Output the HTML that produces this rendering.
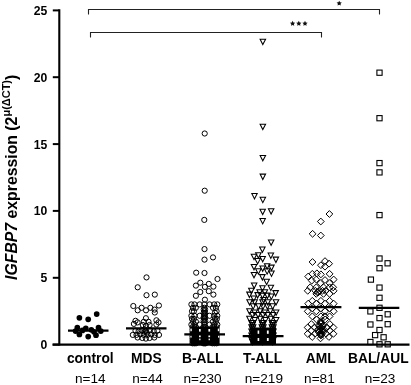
<!DOCTYPE html>
<html><head><meta charset="utf-8"><style>
html,body{margin:0;padding:0;background:#fff;width:411px;height:385px;overflow:hidden}
svg{display:block;will-change:transform}
text{font-family:"Liberation Sans",sans-serif;fill:#000}
.tk{font-weight:bold;font-size:12.2px}
.cl{font-weight:bold;font-size:13.8px}
.nl{font-size:13.6px}
.yl{font-weight:bold;font-size:15.8px}
</style></head><body>
<svg width="411" height="385" viewBox="0 0 411 385">
<line x1="59.3" y1="9.2" x2="59.3" y2="345.6" stroke="#000" stroke-width="2.1"/>
<line x1="52.5" y1="344.6" x2="409.5" y2="344.6" stroke="#000" stroke-width="2.1"/>
<line x1="52.8" y1="344.6" x2="59.3" y2="344.6" stroke="#000" stroke-width="2"/>
<text x="47.3" y="349.0" text-anchor="end" class="tk">0</text>
<line x1="52.8" y1="277.8" x2="59.3" y2="277.8" stroke="#000" stroke-width="2"/>
<text x="47.3" y="282.1" text-anchor="end" class="tk">5</text>
<line x1="52.8" y1="210.9" x2="59.3" y2="210.9" stroke="#000" stroke-width="2"/>
<text x="47.3" y="215.3" text-anchor="end" class="tk">10</text>
<line x1="52.8" y1="144.1" x2="59.3" y2="144.1" stroke="#000" stroke-width="2"/>
<text x="47.3" y="148.5" text-anchor="end" class="tk">15</text>
<line x1="52.8" y1="77.2" x2="59.3" y2="77.2" stroke="#000" stroke-width="2"/>
<text x="47.3" y="81.6" text-anchor="end" class="tk">20</text>
<line x1="52.8" y1="10.4" x2="59.3" y2="10.4" stroke="#000" stroke-width="2"/>
<text x="47.3" y="14.8" text-anchor="end" class="tk">25</text>
<path d="M88.5,14.6 V9.5 H379.5 V14.6" fill="none" stroke="#222" stroke-width="1.1"/>
<path d="M90.5,37.4 V32.5 H321.5 V37.6" fill="none" stroke="#222" stroke-width="1.1"/>
<polygon points="339.20,0.65 340.01,2.29 341.82,2.55 340.51,3.82 340.82,5.62 339.20,4.78 337.58,5.62 337.89,3.82 336.58,2.55 338.39,2.29" fill="#111"/>
<polygon points="292.60,20.85 293.41,22.49 295.22,22.75 293.91,24.02 294.22,25.82 292.60,24.98 290.98,25.82 291.29,24.02 289.98,22.75 291.79,22.49" fill="#111"/>
<polygon points="298.80,20.85 299.61,22.49 301.42,22.75 300.11,24.02 300.42,25.82 298.80,24.98 297.18,25.82 297.49,24.02 296.18,22.75 297.99,22.49" fill="#111"/>
<polygon points="305.00,20.85 305.81,22.49 307.62,22.75 306.31,24.02 306.62,25.82 305.00,24.98 303.38,25.82 303.69,24.02 302.38,22.75 304.19,22.49" fill="#111"/>
<text x="90.3" y="363.2" text-anchor="middle" class="cl">control</text>
<text x="90.25" y="383.4" text-anchor="middle" class="nl">n=14</text>
<text x="146.4" y="363.2" text-anchor="middle" class="cl">MDS</text>
<text x="147.5" y="383.4" text-anchor="middle" class="nl">n=44</text>
<text x="202.65" y="363.2" text-anchor="middle" class="cl">B-ALL</text>
<text x="202.5" y="383.4" text-anchor="middle" class="nl">n=230</text>
<text x="262.6" y="363.2" text-anchor="middle" class="cl">T-ALL</text>
<text x="263.9" y="383.4" text-anchor="middle" class="nl">n=219</text>
<text x="320.7" y="363.2" text-anchor="middle" class="cl">AML</text>
<text x="319.4" y="383.4" text-anchor="middle" class="nl">n=81</text>
<text x="378.3" y="363.2" text-anchor="middle" class="cl">BAL/AUL</text>
<text x="380.1" y="383.4" text-anchor="middle" class="nl">n=23</text>
<text transform="translate(16.9,177.3) rotate(-90)" text-anchor="middle" class="yl"><tspan font-style="italic">IGFBP7</tspan> expression (2<tspan dy="-7" font-size="11px">μ(ΔCT)</tspan><tspan dy="7">)</tspan></text>
<circle cx="79.4" cy="317.8" r="2.85" fill="#000"/>
<circle cx="88.2" cy="319.3" r="2.85" fill="#000"/>
<circle cx="96.7" cy="314.1" r="2.85" fill="#000"/>
<circle cx="77.3" cy="327.7" r="2.85" fill="#000"/>
<circle cx="79.4" cy="334.5" r="2.85" fill="#000"/>
<circle cx="85.8" cy="328.4" r="2.85" fill="#000"/>
<circle cx="88.2" cy="336.6" r="2.85" fill="#000"/>
<circle cx="91.3" cy="329.8" r="2.85" fill="#000"/>
<circle cx="96.0" cy="335.2" r="2.85" fill="#000"/>
<circle cx="98.5" cy="327.7" r="2.85" fill="#000"/>
<circle cx="100.8" cy="331.1" r="2.85" fill="#000"/>
<circle cx="75.6" cy="331.1" r="2.85" fill="#000"/>
<circle cx="82.4" cy="330.4" r="2.85" fill="#000"/>
<circle cx="94.0" cy="331.8" r="2.85" fill="#000"/>
<circle cx="146.5" cy="277.4" r="2.6" fill="none" stroke="#000" stroke-width="1.0"/>
<circle cx="137.7" cy="287.3" r="2.6" fill="none" stroke="#000" stroke-width="1.0"/>
<circle cx="146.5" cy="295.2" r="2.6" fill="none" stroke="#000" stroke-width="1.0"/>
<circle cx="154.8" cy="294.6" r="2.6" fill="none" stroke="#000" stroke-width="1.0"/>
<circle cx="133.3" cy="306.0" r="2.6" fill="none" stroke="#000" stroke-width="1.0"/>
<circle cx="137.7" cy="310.3" r="2.6" fill="none" stroke="#000" stroke-width="1.0"/>
<circle cx="141.6" cy="307.8" r="2.6" fill="none" stroke="#000" stroke-width="1.0"/>
<circle cx="146.0" cy="310.3" r="2.6" fill="none" stroke="#000" stroke-width="1.0"/>
<circle cx="150.4" cy="307.8" r="2.6" fill="none" stroke="#000" stroke-width="1.0"/>
<circle cx="154.5" cy="309.6" r="2.6" fill="none" stroke="#000" stroke-width="1.0"/>
<circle cx="158.9" cy="305.5" r="2.6" fill="none" stroke="#000" stroke-width="1.0"/>
<circle cx="154.8" cy="312.5" r="2.6" fill="none" stroke="#000" stroke-width="1.0"/>
<circle cx="145.9" cy="318.2" r="2.6" fill="none" stroke="#000" stroke-width="1.0"/>
<circle cx="135.5" cy="320.8" r="2.6" fill="none" stroke="#000" stroke-width="1.0"/>
<circle cx="137.6" cy="322.4" r="2.6" fill="none" stroke="#000" stroke-width="1.0"/>
<circle cx="133.9" cy="323.9" r="2.6" fill="none" stroke="#000" stroke-width="1.0"/>
<circle cx="143.8" cy="321.8" r="2.6" fill="none" stroke="#000" stroke-width="1.0"/>
<circle cx="148.5" cy="321.8" r="2.6" fill="none" stroke="#000" stroke-width="1.0"/>
<circle cx="156.4" cy="320.3" r="2.6" fill="none" stroke="#000" stroke-width="1.0"/>
<circle cx="158.5" cy="322.4" r="2.6" fill="none" stroke="#000" stroke-width="1.0"/>
<circle cx="156.4" cy="324.5" r="2.6" fill="none" stroke="#000" stroke-width="1.0"/>
<circle cx="142.8" cy="325.0" r="2.6" fill="none" stroke="#000" stroke-width="1.0"/>
<circle cx="149.6" cy="325.0" r="2.6" fill="none" stroke="#000" stroke-width="1.0"/>
<circle cx="145.9" cy="326.0" r="2.6" fill="none" stroke="#000" stroke-width="1.0"/>
<circle cx="135.5" cy="330.7" r="2.6" fill="none" stroke="#000" stroke-width="1.0"/>
<circle cx="138.6" cy="331.3" r="2.6" fill="none" stroke="#000" stroke-width="1.0"/>
<circle cx="141.7" cy="330.2" r="2.6" fill="none" stroke="#000" stroke-width="1.0"/>
<circle cx="145.9" cy="330.7" r="2.6" fill="none" stroke="#000" stroke-width="1.0"/>
<circle cx="150.1" cy="330.2" r="2.6" fill="none" stroke="#000" stroke-width="1.0"/>
<circle cx="153.8" cy="331.3" r="2.6" fill="none" stroke="#000" stroke-width="1.0"/>
<circle cx="157.4" cy="330.7" r="2.6" fill="none" stroke="#000" stroke-width="1.0"/>
<circle cx="132.8" cy="334.9" r="2.6" fill="none" stroke="#000" stroke-width="1.0"/>
<circle cx="136.5" cy="334.9" r="2.6" fill="none" stroke="#000" stroke-width="1.0"/>
<circle cx="140.2" cy="334.4" r="2.6" fill="none" stroke="#000" stroke-width="1.0"/>
<circle cx="143.8" cy="334.9" r="2.6" fill="none" stroke="#000" stroke-width="1.0"/>
<circle cx="147.5" cy="334.9" r="2.6" fill="none" stroke="#000" stroke-width="1.0"/>
<circle cx="151.2" cy="334.4" r="2.6" fill="none" stroke="#000" stroke-width="1.0"/>
<circle cx="154.8" cy="334.9" r="2.6" fill="none" stroke="#000" stroke-width="1.0"/>
<circle cx="159.0" cy="334.9" r="2.6" fill="none" stroke="#000" stroke-width="1.0"/>
<circle cx="137.6" cy="337.5" r="2.6" fill="none" stroke="#000" stroke-width="1.0"/>
<circle cx="142.3" cy="338.0" r="2.6" fill="none" stroke="#000" stroke-width="1.0"/>
<circle cx="145.9" cy="338.6" r="2.6" fill="none" stroke="#000" stroke-width="1.0"/>
<circle cx="149.6" cy="338.0" r="2.6" fill="none" stroke="#000" stroke-width="1.0"/>
<circle cx="154.3" cy="337.5" r="2.6" fill="none" stroke="#000" stroke-width="1.0"/>
<circle cx="145.2" cy="331.8" r="2.6" fill="none" stroke="#000" stroke-width="1.0"/>
<circle cx="146.7" cy="332.6" r="2.6" fill="none" stroke="#000" stroke-width="1.0"/>
<circle cx="144.6" cy="329.4" r="2.6" fill="none" stroke="#000" stroke-width="1.0"/>
<circle cx="204.7" cy="133.5" r="2.6" fill="none" stroke="#000" stroke-width="1.0"/>
<circle cx="204.7" cy="190.7" r="2.6" fill="none" stroke="#000" stroke-width="1.0"/>
<circle cx="204.3" cy="219.9" r="2.6" fill="none" stroke="#000" stroke-width="1.0"/>
<circle cx="204.5" cy="249.1" r="2.6" fill="none" stroke="#000" stroke-width="1.0"/>
<circle cx="204.5" cy="259.6" r="2.6" fill="none" stroke="#000" stroke-width="1.0"/>
<circle cx="213.0" cy="257.4" r="2.6" fill="none" stroke="#000" stroke-width="1.0"/>
<circle cx="196.2" cy="272.7" r="2.6" fill="none" stroke="#000" stroke-width="1.0"/>
<circle cx="204.5" cy="273.0" r="2.6" fill="none" stroke="#000" stroke-width="1.0"/>
<circle cx="217.5" cy="279.0" r="2.6" fill="none" stroke="#000" stroke-width="1.0"/>
<circle cx="200.3" cy="282.7" r="2.6" fill="none" stroke="#000" stroke-width="1.0"/>
<circle cx="195.9" cy="285.6" r="2.6" fill="none" stroke="#000" stroke-width="1.0"/>
<circle cx="204.9" cy="286.9" r="2.6" fill="none" stroke="#000" stroke-width="1.0"/>
<circle cx="208.8" cy="283.9" r="2.6" fill="none" stroke="#000" stroke-width="1.0"/>
<circle cx="213.4" cy="286.6" r="2.6" fill="none" stroke="#000" stroke-width="1.0"/>
<circle cx="200.3" cy="292.0" r="2.6" fill="none" stroke="#000" stroke-width="1.0"/>
<circle cx="195.9" cy="295.8" r="2.6" fill="none" stroke="#000" stroke-width="1.0"/>
<circle cx="208.8" cy="291.2" r="2.6" fill="none" stroke="#000" stroke-width="1.0"/>
<circle cx="213.4" cy="294.6" r="2.6" fill="none" stroke="#000" stroke-width="1.0"/>
<circle cx="204.9" cy="299.7" r="2.6" fill="none" stroke="#000" stroke-width="1.0"/>
<circle cx="191.4" cy="304.4" r="2.6" fill="none" stroke="#000" stroke-width="1.0"/>
<circle cx="194.5" cy="304.4" r="2.6" fill="none" stroke="#000" stroke-width="1.0"/>
<circle cx="199.7" cy="304.4" r="2.6" fill="none" stroke="#000" stroke-width="1.0"/>
<circle cx="204.4" cy="304.4" r="2.6" fill="none" stroke="#000" stroke-width="1.0"/>
<circle cx="209.6" cy="304.4" r="2.6" fill="none" stroke="#000" stroke-width="1.0"/>
<circle cx="214.2" cy="304.4" r="2.6" fill="none" stroke="#000" stroke-width="1.0"/>
<circle cx="217.3" cy="304.4" r="2.6" fill="none" stroke="#000" stroke-width="1.0"/>
<circle cx="192.9" cy="307.8" r="2.6" fill="none" stroke="#000" stroke-width="1.0"/>
<circle cx="195.8" cy="307.8" r="2.6" fill="none" stroke="#000" stroke-width="1.0"/>
<circle cx="204.4" cy="307.8" r="2.6" fill="none" stroke="#000" stroke-width="1.0"/>
<circle cx="213.0" cy="307.8" r="2.6" fill="none" stroke="#000" stroke-width="1.0"/>
<circle cx="215.9" cy="307.8" r="2.6" fill="none" stroke="#000" stroke-width="1.0"/>
<circle cx="203.7" cy="309.6" r="2.6" fill="none" stroke="#000" stroke-width="1.0"/>
<circle cx="205.1" cy="309.6" r="2.6" fill="none" stroke="#000" stroke-width="1.0"/>
<circle cx="192.0" cy="311.2" r="2.6" fill="none" stroke="#000" stroke-width="1.0"/>
<circle cx="193.9" cy="311.2" r="2.6" fill="none" stroke="#000" stroke-width="1.0"/>
<circle cx="204.4" cy="311.2" r="2.6" fill="none" stroke="#000" stroke-width="1.0"/>
<circle cx="216.6" cy="311.2" r="2.6" fill="none" stroke="#000" stroke-width="1.0"/>
<circle cx="203.7" cy="312.8" r="2.6" fill="none" stroke="#000" stroke-width="1.0"/>
<circle cx="205.1" cy="312.8" r="2.6" fill="none" stroke="#000" stroke-width="1.0"/>
<circle cx="214.9" cy="312.8" r="2.6" fill="none" stroke="#000" stroke-width="1.0"/>
<circle cx="204.4" cy="314.4" r="2.6" fill="none" stroke="#000" stroke-width="1.0"/>
<circle cx="191.4" cy="315.8" r="2.6" fill="none" stroke="#000" stroke-width="1.0"/>
<circle cx="194.5" cy="315.8" r="2.6" fill="none" stroke="#000" stroke-width="1.0"/>
<circle cx="199.7" cy="315.8" r="2.6" fill="none" stroke="#000" stroke-width="1.0"/>
<circle cx="204.4" cy="315.8" r="2.6" fill="none" stroke="#000" stroke-width="1.0"/>
<circle cx="209.6" cy="315.8" r="2.6" fill="none" stroke="#000" stroke-width="1.0"/>
<circle cx="214.2" cy="315.8" r="2.6" fill="none" stroke="#000" stroke-width="1.0"/>
<circle cx="217.3" cy="315.8" r="2.6" fill="none" stroke="#000" stroke-width="1.0"/>
<circle cx="203.7" cy="317.4" r="2.6" fill="none" stroke="#000" stroke-width="1.0"/>
<circle cx="205.1" cy="317.4" r="2.6" fill="none" stroke="#000" stroke-width="1.0"/>
<circle cx="192.0" cy="318.9" r="2.6" fill="none" stroke="#000" stroke-width="1.0"/>
<circle cx="193.9" cy="318.9" r="2.6" fill="none" stroke="#000" stroke-width="1.0"/>
<circle cx="204.4" cy="318.9" r="2.6" fill="none" stroke="#000" stroke-width="1.0"/>
<circle cx="214.9" cy="318.9" r="2.6" fill="none" stroke="#000" stroke-width="1.0"/>
<circle cx="216.8" cy="318.9" r="2.6" fill="none" stroke="#000" stroke-width="1.0"/>
<circle cx="203.7" cy="320.5" r="2.6" fill="none" stroke="#000" stroke-width="1.0"/>
<circle cx="205.1" cy="320.5" r="2.6" fill="none" stroke="#000" stroke-width="1.0"/>
<circle cx="193.0" cy="321.7" r="2.6" fill="none" stroke="#000" stroke-width="1.0"/>
<circle cx="195.9" cy="321.7" r="2.6" fill="none" stroke="#000" stroke-width="1.0"/>
<circle cx="212.9" cy="321.7" r="2.6" fill="none" stroke="#000" stroke-width="1.0"/>
<circle cx="215.8" cy="321.7" r="2.6" fill="none" stroke="#000" stroke-width="1.0"/>
<circle cx="204.4" cy="322.5" r="2.6" fill="none" stroke="#000" stroke-width="1.0"/>
<circle cx="191.4" cy="324.6" r="2.6" fill="none" stroke="#000" stroke-width="1.0"/>
<circle cx="194.5" cy="324.6" r="2.6" fill="none" stroke="#000" stroke-width="1.0"/>
<circle cx="199.7" cy="324.6" r="2.6" fill="none" stroke="#000" stroke-width="1.0"/>
<circle cx="204.4" cy="324.6" r="2.6" fill="none" stroke="#000" stroke-width="1.0"/>
<circle cx="209.6" cy="324.6" r="2.6" fill="none" stroke="#000" stroke-width="1.0"/>
<circle cx="214.2" cy="324.6" r="2.6" fill="none" stroke="#000" stroke-width="1.0"/>
<circle cx="217.3" cy="324.6" r="2.6" fill="none" stroke="#000" stroke-width="1.0"/>
<circle cx="192.5" cy="327.2" r="2.6" fill="none" stroke="#000" stroke-width="1.0"/>
<circle cx="194.3" cy="327.2" r="2.6" fill="none" stroke="#000" stroke-width="1.0"/>
<circle cx="196.0" cy="327.2" r="2.6" fill="none" stroke="#000" stroke-width="1.0"/>
<circle cx="203.3" cy="327.2" r="2.6" fill="none" stroke="#000" stroke-width="1.0"/>
<circle cx="204.6" cy="327.2" r="2.6" fill="none" stroke="#000" stroke-width="1.0"/>
<circle cx="205.6" cy="327.2" r="2.6" fill="none" stroke="#000" stroke-width="1.0"/>
<circle cx="212.4" cy="327.2" r="2.6" fill="none" stroke="#000" stroke-width="1.0"/>
<circle cx="214.5" cy="327.2" r="2.6" fill="none" stroke="#000" stroke-width="1.0"/>
<circle cx="216.6" cy="327.2" r="2.6" fill="none" stroke="#000" stroke-width="1.0"/>
<circle cx="192.5" cy="329.5" r="2.6" fill="none" stroke="#000" stroke-width="1.0"/>
<circle cx="194.3" cy="329.5" r="2.6" fill="none" stroke="#000" stroke-width="1.0"/>
<circle cx="196.0" cy="329.5" r="2.6" fill="none" stroke="#000" stroke-width="1.0"/>
<circle cx="203.3" cy="329.5" r="2.6" fill="none" stroke="#000" stroke-width="1.0"/>
<circle cx="204.6" cy="329.5" r="2.6" fill="none" stroke="#000" stroke-width="1.0"/>
<circle cx="205.6" cy="329.5" r="2.6" fill="none" stroke="#000" stroke-width="1.0"/>
<circle cx="212.4" cy="329.5" r="2.6" fill="none" stroke="#000" stroke-width="1.0"/>
<circle cx="214.5" cy="329.5" r="2.6" fill="none" stroke="#000" stroke-width="1.0"/>
<circle cx="216.6" cy="329.5" r="2.6" fill="none" stroke="#000" stroke-width="1.0"/>
<circle cx="192.5" cy="331.8" r="2.6" fill="none" stroke="#000" stroke-width="1.0"/>
<circle cx="194.3" cy="331.8" r="2.6" fill="none" stroke="#000" stroke-width="1.0"/>
<circle cx="196.0" cy="331.8" r="2.6" fill="none" stroke="#000" stroke-width="1.0"/>
<circle cx="203.3" cy="331.8" r="2.6" fill="none" stroke="#000" stroke-width="1.0"/>
<circle cx="204.6" cy="331.8" r="2.6" fill="none" stroke="#000" stroke-width="1.0"/>
<circle cx="205.6" cy="331.8" r="2.6" fill="none" stroke="#000" stroke-width="1.0"/>
<circle cx="212.4" cy="331.8" r="2.6" fill="none" stroke="#000" stroke-width="1.0"/>
<circle cx="214.5" cy="331.8" r="2.6" fill="none" stroke="#000" stroke-width="1.0"/>
<circle cx="216.6" cy="331.8" r="2.6" fill="none" stroke="#000" stroke-width="1.0"/>
<circle cx="192.5" cy="334.1" r="2.6" fill="none" stroke="#000" stroke-width="1.0"/>
<circle cx="194.3" cy="334.1" r="2.6" fill="none" stroke="#000" stroke-width="1.0"/>
<circle cx="196.0" cy="334.1" r="2.6" fill="none" stroke="#000" stroke-width="1.0"/>
<circle cx="203.3" cy="334.1" r="2.6" fill="none" stroke="#000" stroke-width="1.0"/>
<circle cx="204.6" cy="334.1" r="2.6" fill="none" stroke="#000" stroke-width="1.0"/>
<circle cx="205.6" cy="334.1" r="2.6" fill="none" stroke="#000" stroke-width="1.0"/>
<circle cx="212.4" cy="334.1" r="2.6" fill="none" stroke="#000" stroke-width="1.0"/>
<circle cx="214.5" cy="334.1" r="2.6" fill="none" stroke="#000" stroke-width="1.0"/>
<circle cx="216.6" cy="334.1" r="2.6" fill="none" stroke="#000" stroke-width="1.0"/>
<circle cx="192.5" cy="336.4" r="2.6" fill="none" stroke="#000" stroke-width="1.0"/>
<circle cx="194.3" cy="336.4" r="2.6" fill="none" stroke="#000" stroke-width="1.0"/>
<circle cx="196.0" cy="336.4" r="2.6" fill="none" stroke="#000" stroke-width="1.0"/>
<circle cx="203.3" cy="336.4" r="2.6" fill="none" stroke="#000" stroke-width="1.0"/>
<circle cx="204.6" cy="336.4" r="2.6" fill="none" stroke="#000" stroke-width="1.0"/>
<circle cx="205.6" cy="336.4" r="2.6" fill="none" stroke="#000" stroke-width="1.0"/>
<circle cx="212.4" cy="336.4" r="2.6" fill="none" stroke="#000" stroke-width="1.0"/>
<circle cx="214.5" cy="336.4" r="2.6" fill="none" stroke="#000" stroke-width="1.0"/>
<circle cx="216.6" cy="336.4" r="2.6" fill="none" stroke="#000" stroke-width="1.0"/>
<circle cx="192.5" cy="338.7" r="2.6" fill="none" stroke="#000" stroke-width="1.0"/>
<circle cx="194.3" cy="338.7" r="2.6" fill="none" stroke="#000" stroke-width="1.0"/>
<circle cx="196.0" cy="338.7" r="2.6" fill="none" stroke="#000" stroke-width="1.0"/>
<circle cx="203.3" cy="338.7" r="2.6" fill="none" stroke="#000" stroke-width="1.0"/>
<circle cx="204.6" cy="338.7" r="2.6" fill="none" stroke="#000" stroke-width="1.0"/>
<circle cx="205.6" cy="338.7" r="2.6" fill="none" stroke="#000" stroke-width="1.0"/>
<circle cx="212.4" cy="338.7" r="2.6" fill="none" stroke="#000" stroke-width="1.0"/>
<circle cx="214.5" cy="338.7" r="2.6" fill="none" stroke="#000" stroke-width="1.0"/>
<circle cx="216.6" cy="338.7" r="2.6" fill="none" stroke="#000" stroke-width="1.0"/>
<circle cx="192.5" cy="341.0" r="2.6" fill="none" stroke="#000" stroke-width="1.0"/>
<circle cx="194.3" cy="341.0" r="2.6" fill="none" stroke="#000" stroke-width="1.0"/>
<circle cx="196.0" cy="341.0" r="2.6" fill="none" stroke="#000" stroke-width="1.0"/>
<circle cx="203.3" cy="341.0" r="2.6" fill="none" stroke="#000" stroke-width="1.0"/>
<circle cx="204.6" cy="341.0" r="2.6" fill="none" stroke="#000" stroke-width="1.0"/>
<circle cx="205.6" cy="341.0" r="2.6" fill="none" stroke="#000" stroke-width="1.0"/>
<circle cx="212.4" cy="341.0" r="2.6" fill="none" stroke="#000" stroke-width="1.0"/>
<circle cx="214.5" cy="341.0" r="2.6" fill="none" stroke="#000" stroke-width="1.0"/>
<circle cx="216.6" cy="341.0" r="2.6" fill="none" stroke="#000" stroke-width="1.0"/>
<circle cx="192.5" cy="343.3" r="2.6" fill="none" stroke="#000" stroke-width="1.0"/>
<circle cx="194.3" cy="343.3" r="2.6" fill="none" stroke="#000" stroke-width="1.0"/>
<circle cx="196.0" cy="343.3" r="2.6" fill="none" stroke="#000" stroke-width="1.0"/>
<circle cx="203.3" cy="343.3" r="2.6" fill="none" stroke="#000" stroke-width="1.0"/>
<circle cx="204.6" cy="343.3" r="2.6" fill="none" stroke="#000" stroke-width="1.0"/>
<circle cx="205.6" cy="343.3" r="2.6" fill="none" stroke="#000" stroke-width="1.0"/>
<circle cx="212.4" cy="343.3" r="2.6" fill="none" stroke="#000" stroke-width="1.0"/>
<circle cx="214.5" cy="343.3" r="2.6" fill="none" stroke="#000" stroke-width="1.0"/>
<circle cx="216.6" cy="343.3" r="2.6" fill="none" stroke="#000" stroke-width="1.0"/>
<path d="M260.1,39.2 H265.6 L262.8,44.6 Z" fill="none" stroke="#000" stroke-width="1.05" stroke-linejoin="miter"/>
<path d="M260.1,124.2 H265.6 L262.8,129.6 Z" fill="none" stroke="#000" stroke-width="1.05" stroke-linejoin="miter"/>
<path d="M260.1,155.4 H265.6 L262.8,160.8 Z" fill="none" stroke="#000" stroke-width="1.05" stroke-linejoin="miter"/>
<path d="M260.1,174.1 H265.6 L262.8,179.5 Z" fill="none" stroke="#000" stroke-width="1.05" stroke-linejoin="miter"/>
<path d="M251.8,193.5 H257.2 L254.5,198.9 Z" fill="none" stroke="#000" stroke-width="1.05" stroke-linejoin="miter"/>
<path d="M260.1,197.3 H265.6 L262.8,202.7 Z" fill="none" stroke="#000" stroke-width="1.05" stroke-linejoin="miter"/>
<path d="M259.9,209.2 H265.4 L262.7,214.6 Z" fill="none" stroke="#000" stroke-width="1.05" stroke-linejoin="miter"/>
<path d="M268.4,208.7 H273.9 L271.1,214.1 Z" fill="none" stroke="#000" stroke-width="1.05" stroke-linejoin="miter"/>
<path d="M259.9,218.5 H265.4 L262.7,223.9 Z" fill="none" stroke="#000" stroke-width="1.05" stroke-linejoin="miter"/>
<path d="M268.4,239.9 H273.9 L271.1,245.3 Z" fill="none" stroke="#000" stroke-width="1.05" stroke-linejoin="miter"/>
<path d="M259.6,246.9 H265.1 L262.4,252.3 Z" fill="none" stroke="#000" stroke-width="1.05" stroke-linejoin="miter"/>
<path d="M251.2,254.2 H256.8 L254.0,259.6 Z" fill="none" stroke="#000" stroke-width="1.05" stroke-linejoin="miter"/>
<path d="M255.6,252.7 H261.1 L258.4,258.1 Z" fill="none" stroke="#000" stroke-width="1.05" stroke-linejoin="miter"/>
<path d="M268.1,253.0 H273.6 L270.8,258.4 Z" fill="none" stroke="#000" stroke-width="1.05" stroke-linejoin="miter"/>
<path d="M254.9,258.5 H260.4 L257.6,263.9 Z" fill="none" stroke="#000" stroke-width="1.05" stroke-linejoin="miter"/>
<path d="M259.9,256.4 H265.4 L262.7,261.8 Z" fill="none" stroke="#000" stroke-width="1.05" stroke-linejoin="miter"/>
<path d="M273.1,257.1 H278.6 L275.9,262.5 Z" fill="none" stroke="#000" stroke-width="1.05" stroke-linejoin="miter"/>
<path d="M251.2,264.4 H256.8 L254.0,269.8 Z" fill="none" stroke="#000" stroke-width="1.05" stroke-linejoin="miter"/>
<path d="M255.6,268.8 H261.1 L258.4,274.2 Z" fill="none" stroke="#000" stroke-width="1.05" stroke-linejoin="miter"/>
<path d="M259.9,265.9 H265.4 L262.7,271.3 Z" fill="none" stroke="#000" stroke-width="1.05" stroke-linejoin="miter"/>
<path d="M264.4,263.7 H269.9 L267.1,269.1 Z" fill="none" stroke="#000" stroke-width="1.05" stroke-linejoin="miter"/>
<path d="M268.8,265.1 H274.2 L271.5,270.5 Z" fill="none" stroke="#000" stroke-width="1.05" stroke-linejoin="miter"/>
<path d="M264.4,268.8 H269.9 L267.1,274.2 Z" fill="none" stroke="#000" stroke-width="1.05" stroke-linejoin="miter"/>
<path d="M268.8,271.0 H274.2 L271.5,276.4 Z" fill="none" stroke="#000" stroke-width="1.05" stroke-linejoin="miter"/>
<path d="M251.2,272.4 H256.8 L254.0,277.8 Z" fill="none" stroke="#000" stroke-width="1.05" stroke-linejoin="miter"/>
<path d="M259.6,274.6 H265.1 L262.4,280.0 Z" fill="none" stroke="#000" stroke-width="1.05" stroke-linejoin="miter"/>
<path d="M263.9,279.3 H269.4 L266.6,284.7 Z" fill="none" stroke="#000" stroke-width="1.05" stroke-linejoin="miter"/>
<path d="M251.4,282.9 H256.9 L254.2,288.3 Z" fill="none" stroke="#000" stroke-width="1.05" stroke-linejoin="miter"/>
<path d="M259.8,285.8 H265.2 L262.5,291.2 Z" fill="none" stroke="#000" stroke-width="1.05" stroke-linejoin="miter"/>
<path d="M268.1,285.3 H273.6 L270.8,290.7 Z" fill="none" stroke="#000" stroke-width="1.05" stroke-linejoin="miter"/>
<path d="M248.6,288.2 H254.1 L251.3,293.6 Z" fill="none" stroke="#000" stroke-width="1.05" stroke-linejoin="miter"/>
<path d="M256.9,289.7 H262.4 L259.6,295.1 Z" fill="none" stroke="#000" stroke-width="1.05" stroke-linejoin="miter"/>
<path d="M262.1,289.7 H267.6 L264.9,295.1 Z" fill="none" stroke="#000" stroke-width="1.05" stroke-linejoin="miter"/>
<path d="M246.7,292.1 H252.2 L249.4,297.5 Z" fill="none" stroke="#000" stroke-width="1.05" stroke-linejoin="miter"/>
<path d="M254.9,292.6 H260.4 L257.6,298.0 Z" fill="none" stroke="#000" stroke-width="1.05" stroke-linejoin="miter"/>
<path d="M259.8,293.1 H265.2 L262.5,298.5 Z" fill="none" stroke="#000" stroke-width="1.05" stroke-linejoin="miter"/>
<path d="M264.6,293.1 H270.1 L267.4,298.5 Z" fill="none" stroke="#000" stroke-width="1.05" stroke-linejoin="miter"/>
<path d="M268.6,294.0 H274.1 L271.3,299.4 Z" fill="none" stroke="#000" stroke-width="1.05" stroke-linejoin="miter"/>
<path d="M272.9,290.6 H278.4 L275.6,296.0 Z" fill="none" stroke="#000" stroke-width="1.05" stroke-linejoin="miter"/>
<path d="M250.9,296.0 H256.4 L253.7,301.4 Z" fill="none" stroke="#000" stroke-width="1.05" stroke-linejoin="miter"/>
<path d="M260.8,297.5 H266.2 L263.5,302.9 Z" fill="none" stroke="#000" stroke-width="1.05" stroke-linejoin="miter"/>
<path d="M246.8,299.7 H252.3 L249.6,305.1 Z" fill="none" stroke="#000" stroke-width="1.05" stroke-linejoin="miter"/>
<path d="M251.9,299.7 H257.4 L254.7,305.1 Z" fill="none" stroke="#000" stroke-width="1.05" stroke-linejoin="miter"/>
<path d="M259.8,299.7 H265.2 L262.5,305.1 Z" fill="none" stroke="#000" stroke-width="1.05" stroke-linejoin="miter"/>
<path d="M265.1,299.7 H270.6 L267.8,305.1 Z" fill="none" stroke="#000" stroke-width="1.05" stroke-linejoin="miter"/>
<path d="M273.2,299.7 H278.8 L276.0,305.1 Z" fill="none" stroke="#000" stroke-width="1.05" stroke-linejoin="miter"/>
<path d="M250.4,303.8 H255.9 L253.2,309.2 Z" fill="none" stroke="#000" stroke-width="1.05" stroke-linejoin="miter"/>
<path d="M255.9,303.8 H261.4 L258.6,309.2 Z" fill="none" stroke="#000" stroke-width="1.05" stroke-linejoin="miter"/>
<path d="M260.2,303.8 H265.8 L263.0,309.2 Z" fill="none" stroke="#000" stroke-width="1.05" stroke-linejoin="miter"/>
<path d="M264.6,303.8 H270.1 L267.4,309.2 Z" fill="none" stroke="#000" stroke-width="1.05" stroke-linejoin="miter"/>
<path d="M269.9,303.8 H275.4 L272.7,309.2 Z" fill="none" stroke="#000" stroke-width="1.05" stroke-linejoin="miter"/>
<path d="M246.7,308.7 H252.2 L249.4,314.1 Z" fill="none" stroke="#000" stroke-width="1.05" stroke-linejoin="miter"/>
<path d="M257.4,308.7 H262.9 L260.1,314.1 Z" fill="none" stroke="#000" stroke-width="1.05" stroke-linejoin="miter"/>
<path d="M267.6,308.7 H273.1 L270.3,314.1 Z" fill="none" stroke="#000" stroke-width="1.05" stroke-linejoin="miter"/>
<path d="M251.9,309.9 H257.4 L254.7,315.3 Z" fill="none" stroke="#000" stroke-width="1.05" stroke-linejoin="miter"/>
<path d="M262.1,309.9 H267.6 L264.9,315.3 Z" fill="none" stroke="#000" stroke-width="1.05" stroke-linejoin="miter"/>
<path d="M273.4,309.9 H278.9 L276.1,315.3 Z" fill="none" stroke="#000" stroke-width="1.05" stroke-linejoin="miter"/>
<path d="M249.8,312.5 H255.2 L252.5,317.9 Z" fill="none" stroke="#000" stroke-width="1.05" stroke-linejoin="miter"/>
<path d="M255.4,312.5 H260.9 L258.1,317.9 Z" fill="none" stroke="#000" stroke-width="1.05" stroke-linejoin="miter"/>
<path d="M260.2,312.5 H265.8 L263.0,317.9 Z" fill="none" stroke="#000" stroke-width="1.05" stroke-linejoin="miter"/>
<path d="M265.1,312.5 H270.6 L267.8,317.9 Z" fill="none" stroke="#000" stroke-width="1.05" stroke-linejoin="miter"/>
<path d="M270.4,312.5 H275.9 L273.2,317.9 Z" fill="none" stroke="#000" stroke-width="1.05" stroke-linejoin="miter"/>
<path d="M246.7,316.3 H252.2 L249.4,321.7 Z" fill="none" stroke="#000" stroke-width="1.05" stroke-linejoin="miter"/>
<path d="M257.4,316.3 H262.9 L260.1,321.7 Z" fill="none" stroke="#000" stroke-width="1.05" stroke-linejoin="miter"/>
<path d="M268.1,316.3 H273.6 L270.8,321.7 Z" fill="none" stroke="#000" stroke-width="1.05" stroke-linejoin="miter"/>
<path d="M251.9,317.5 H257.4 L254.7,322.9 Z" fill="none" stroke="#000" stroke-width="1.05" stroke-linejoin="miter"/>
<path d="M262.6,317.5 H268.1 L265.4,322.9 Z" fill="none" stroke="#000" stroke-width="1.05" stroke-linejoin="miter"/>
<path d="M273.4,317.5 H278.9 L276.1,322.9 Z" fill="none" stroke="#000" stroke-width="1.05" stroke-linejoin="miter"/>
<path d="M248.8,320.5 H254.3 L251.6,325.9 Z" fill="none" stroke="#000" stroke-width="1.05" stroke-linejoin="miter"/>
<path d="M250.4,320.5 H255.9 L253.2,325.9 Z" fill="none" stroke="#000" stroke-width="1.05" stroke-linejoin="miter"/>
<path d="M259.1,320.5 H264.6 L261.9,325.9 Z" fill="none" stroke="#000" stroke-width="1.05" stroke-linejoin="miter"/>
<path d="M260.8,320.5 H266.2 L263.5,325.9 Z" fill="none" stroke="#000" stroke-width="1.05" stroke-linejoin="miter"/>
<path d="M269.1,320.5 H274.6 L271.9,325.9 Z" fill="none" stroke="#000" stroke-width="1.05" stroke-linejoin="miter"/>
<path d="M270.8,320.5 H276.2 L273.5,325.9 Z" fill="none" stroke="#000" stroke-width="1.05" stroke-linejoin="miter"/>
<path d="M249.7,322.6 H255.2 L252.4,328.0 Z" fill="none" stroke="#000" stroke-width="1.05" stroke-linejoin="miter"/>
<path d="M259.9,322.6 H265.4 L262.7,328.0 Z" fill="none" stroke="#000" stroke-width="1.05" stroke-linejoin="miter"/>
<path d="M269.9,322.6 H275.4 L272.7,328.0 Z" fill="none" stroke="#000" stroke-width="1.05" stroke-linejoin="miter"/>
<path d="M248.8,324.7 H254.3 L251.6,330.1 Z" fill="none" stroke="#000" stroke-width="1.05" stroke-linejoin="miter"/>
<path d="M250.4,324.7 H255.9 L253.2,330.1 Z" fill="none" stroke="#000" stroke-width="1.05" stroke-linejoin="miter"/>
<path d="M259.1,324.7 H264.6 L261.9,330.1 Z" fill="none" stroke="#000" stroke-width="1.05" stroke-linejoin="miter"/>
<path d="M260.8,324.7 H266.2 L263.5,330.1 Z" fill="none" stroke="#000" stroke-width="1.05" stroke-linejoin="miter"/>
<path d="M269.1,324.7 H274.6 L271.9,330.1 Z" fill="none" stroke="#000" stroke-width="1.05" stroke-linejoin="miter"/>
<path d="M270.8,324.7 H276.2 L273.5,330.1 Z" fill="none" stroke="#000" stroke-width="1.05" stroke-linejoin="miter"/>
<path d="M249.7,326.8 H255.2 L252.4,332.2 Z" fill="none" stroke="#000" stroke-width="1.05" stroke-linejoin="miter"/>
<path d="M259.9,326.8 H265.4 L262.7,332.2 Z" fill="none" stroke="#000" stroke-width="1.05" stroke-linejoin="miter"/>
<path d="M269.9,326.8 H275.4 L272.7,332.2 Z" fill="none" stroke="#000" stroke-width="1.05" stroke-linejoin="miter"/>
<path d="M248.8,328.9 H254.3 L251.6,334.3 Z" fill="none" stroke="#000" stroke-width="1.05" stroke-linejoin="miter"/>
<path d="M250.4,328.9 H255.9 L253.2,334.3 Z" fill="none" stroke="#000" stroke-width="1.05" stroke-linejoin="miter"/>
<path d="M259.1,328.9 H264.6 L261.9,334.3 Z" fill="none" stroke="#000" stroke-width="1.05" stroke-linejoin="miter"/>
<path d="M260.8,328.9 H266.2 L263.5,334.3 Z" fill="none" stroke="#000" stroke-width="1.05" stroke-linejoin="miter"/>
<path d="M269.1,328.9 H274.6 L271.9,334.3 Z" fill="none" stroke="#000" stroke-width="1.05" stroke-linejoin="miter"/>
<path d="M270.8,328.9 H276.2 L273.5,334.3 Z" fill="none" stroke="#000" stroke-width="1.05" stroke-linejoin="miter"/>
<path d="M249.7,331.0 H255.2 L252.4,336.4 Z" fill="none" stroke="#000" stroke-width="1.05" stroke-linejoin="miter"/>
<path d="M259.9,331.0 H265.4 L262.7,336.4 Z" fill="none" stroke="#000" stroke-width="1.05" stroke-linejoin="miter"/>
<path d="M269.9,331.0 H275.4 L272.7,336.4 Z" fill="none" stroke="#000" stroke-width="1.05" stroke-linejoin="miter"/>
<path d="M248.8,333.1 H254.3 L251.6,338.5 Z" fill="none" stroke="#000" stroke-width="1.05" stroke-linejoin="miter"/>
<path d="M250.4,333.1 H255.9 L253.2,338.5 Z" fill="none" stroke="#000" stroke-width="1.05" stroke-linejoin="miter"/>
<path d="M259.1,333.1 H264.6 L261.9,338.5 Z" fill="none" stroke="#000" stroke-width="1.05" stroke-linejoin="miter"/>
<path d="M260.8,333.1 H266.2 L263.5,338.5 Z" fill="none" stroke="#000" stroke-width="1.05" stroke-linejoin="miter"/>
<path d="M269.1,333.1 H274.6 L271.9,338.5 Z" fill="none" stroke="#000" stroke-width="1.05" stroke-linejoin="miter"/>
<path d="M270.8,333.1 H276.2 L273.5,338.5 Z" fill="none" stroke="#000" stroke-width="1.05" stroke-linejoin="miter"/>
<path d="M249.7,335.2 H255.2 L252.4,340.6 Z" fill="none" stroke="#000" stroke-width="1.05" stroke-linejoin="miter"/>
<path d="M259.9,335.2 H265.4 L262.7,340.6 Z" fill="none" stroke="#000" stroke-width="1.05" stroke-linejoin="miter"/>
<path d="M269.9,335.2 H275.4 L272.7,340.6 Z" fill="none" stroke="#000" stroke-width="1.05" stroke-linejoin="miter"/>
<path d="M248.8,337.3 H254.3 L251.6,342.7 Z" fill="none" stroke="#000" stroke-width="1.05" stroke-linejoin="miter"/>
<path d="M250.4,337.3 H255.9 L253.2,342.7 Z" fill="none" stroke="#000" stroke-width="1.05" stroke-linejoin="miter"/>
<path d="M259.1,337.3 H264.6 L261.9,342.7 Z" fill="none" stroke="#000" stroke-width="1.05" stroke-linejoin="miter"/>
<path d="M260.8,337.3 H266.2 L263.5,342.7 Z" fill="none" stroke="#000" stroke-width="1.05" stroke-linejoin="miter"/>
<path d="M269.1,337.3 H274.6 L271.9,342.7 Z" fill="none" stroke="#000" stroke-width="1.05" stroke-linejoin="miter"/>
<path d="M270.8,337.3 H276.2 L273.5,342.7 Z" fill="none" stroke="#000" stroke-width="1.05" stroke-linejoin="miter"/>
<path d="M249.7,339.4 H255.2 L252.4,344.8 Z" fill="none" stroke="#000" stroke-width="1.05" stroke-linejoin="miter"/>
<path d="M259.9,339.4 H265.4 L262.7,344.8 Z" fill="none" stroke="#000" stroke-width="1.05" stroke-linejoin="miter"/>
<path d="M269.9,339.4 H275.4 L272.7,344.8 Z" fill="none" stroke="#000" stroke-width="1.05" stroke-linejoin="miter"/>
<path d="M329.4,210.6 L332.8,214.0 L329.4,217.4 L326.0,214.0 Z" fill="none" stroke="#000" stroke-width="1.0"/>
<path d="M320.8,218.1 L324.2,221.5 L320.8,224.9 L317.4,221.5 Z" fill="none" stroke="#000" stroke-width="1.0"/>
<path d="M312.6,230.4 L316.0,233.8 L312.6,237.2 L309.2,233.8 Z" fill="none" stroke="#000" stroke-width="1.0"/>
<path d="M320.8,232.1 L324.2,235.5 L320.8,238.9 L317.4,235.5 Z" fill="none" stroke="#000" stroke-width="1.0"/>
<path d="M312.5,258.6 L315.9,262.0 L312.5,265.4 L309.1,262.0 Z" fill="none" stroke="#000" stroke-width="1.0"/>
<path d="M325.0,257.7 L328.4,261.1 L325.0,264.6 L321.6,261.1 Z" fill="none" stroke="#000" stroke-width="1.0"/>
<path d="M329.1,260.2 L332.5,263.7 L329.1,267.1 L325.7,263.7 Z" fill="none" stroke="#000" stroke-width="1.0"/>
<path d="M320.9,261.8 L324.3,265.2 L320.9,268.6 L317.5,265.2 Z" fill="none" stroke="#000" stroke-width="1.0"/>
<path d="M325.0,263.2 L328.4,266.7 L325.0,270.1 L321.6,266.7 Z" fill="none" stroke="#000" stroke-width="1.0"/>
<path d="M308.2,273.1 L311.6,276.5 L308.2,279.9 L304.8,276.5 Z" fill="none" stroke="#000" stroke-width="1.0"/>
<path d="M312.3,270.4 L315.7,273.9 L312.3,277.3 L308.9,273.9 Z" fill="none" stroke="#000" stroke-width="1.0"/>
<path d="M316.9,269.9 L320.3,273.4 L316.9,276.8 L313.5,273.4 Z" fill="none" stroke="#000" stroke-width="1.0"/>
<path d="M320.9,270.9 L324.3,274.4 L320.9,277.8 L317.5,274.4 Z" fill="none" stroke="#000" stroke-width="1.0"/>
<path d="M329.6,270.4 L333.0,273.9 L329.6,277.3 L326.2,273.9 Z" fill="none" stroke="#000" stroke-width="1.0"/>
<path d="M316.3,276.1 L319.7,279.5 L316.3,282.9 L312.9,279.5 Z" fill="none" stroke="#000" stroke-width="1.0"/>
<path d="M325.0,276.6 L328.4,280.0 L325.0,283.4 L321.6,280.0 Z" fill="none" stroke="#000" stroke-width="1.0"/>
<path d="M333.7,276.1 L337.1,279.5 L333.7,282.9 L330.3,279.5 Z" fill="none" stroke="#000" stroke-width="1.0"/>
<path d="M311.7,277.2 L315.1,280.6 L311.7,284.1 L308.3,280.6 Z" fill="none" stroke="#000" stroke-width="1.0"/>
<path d="M320.4,279.8 L323.8,283.2 L320.4,286.6 L317.0,283.2 Z" fill="none" stroke="#000" stroke-width="1.0"/>
<path d="M329.6,279.8 L333.0,283.2 L329.6,286.6 L326.2,283.2 Z" fill="none" stroke="#000" stroke-width="1.0"/>
<path d="M310.2,283.9 L313.6,287.3 L310.2,290.8 L306.8,287.3 Z" fill="none" stroke="#000" stroke-width="1.0"/>
<path d="M316.3,283.9 L319.7,287.3 L316.3,290.8 L312.9,287.3 Z" fill="none" stroke="#000" stroke-width="1.0"/>
<path d="M323.5,283.9 L326.9,287.3 L323.5,290.8 L320.1,287.3 Z" fill="none" stroke="#000" stroke-width="1.0"/>
<path d="M329.6,283.9 L333.0,287.3 L329.6,290.8 L326.2,287.3 Z" fill="none" stroke="#000" stroke-width="1.0"/>
<path d="M333.2,283.9 L336.6,287.3 L333.2,290.8 L329.8,287.3 Z" fill="none" stroke="#000" stroke-width="1.0"/>
<path d="M307.7,287.4 L311.1,290.8 L307.7,294.2 L304.3,290.8 Z" fill="none" stroke="#000" stroke-width="1.0"/>
<path d="M315.3,287.4 L318.7,290.8 L315.3,294.2 L311.9,290.8 Z" fill="none" stroke="#000" stroke-width="1.0"/>
<path d="M318.9,287.4 L322.3,290.8 L318.9,294.2 L315.5,290.8 Z" fill="none" stroke="#000" stroke-width="1.0"/>
<path d="M322.5,287.4 L325.9,290.8 L322.5,294.2 L319.1,290.8 Z" fill="none" stroke="#000" stroke-width="1.0"/>
<path d="M325.5,287.4 L328.9,290.8 L325.5,294.2 L322.1,290.8 Z" fill="none" stroke="#000" stroke-width="1.0"/>
<path d="M333.7,287.4 L337.1,290.8 L333.7,294.2 L330.3,290.8 Z" fill="none" stroke="#000" stroke-width="1.0"/>
<path d="M316.3,290.4 L319.7,293.9 L316.3,297.3 L312.9,293.9 Z" fill="none" stroke="#000" stroke-width="1.0"/>
<path d="M323.5,290.4 L326.9,293.9 L323.5,297.3 L320.1,293.9 Z" fill="none" stroke="#000" stroke-width="1.0"/>
<path d="M329.6,290.4 L333.0,293.9 L329.6,297.3 L326.2,293.9 Z" fill="none" stroke="#000" stroke-width="1.0"/>
<path d="M312.3,297.4 L315.7,300.8 L312.3,304.2 L308.9,300.8 Z" fill="none" stroke="#000" stroke-width="1.0"/>
<path d="M320.9,297.4 L324.3,300.8 L320.9,304.2 L317.5,300.8 Z" fill="none" stroke="#000" stroke-width="1.0"/>
<path d="M329.6,297.4 L333.0,300.8 L329.6,304.2 L326.2,300.8 Z" fill="none" stroke="#000" stroke-width="1.0"/>
<path d="M308.2,300.2 L311.6,303.7 L308.2,307.1 L304.8,303.7 Z" fill="none" stroke="#000" stroke-width="1.0"/>
<path d="M316.3,300.2 L319.7,303.7 L316.3,307.1 L312.9,303.7 Z" fill="none" stroke="#000" stroke-width="1.0"/>
<path d="M325.0,300.2 L328.4,303.7 L325.0,307.1 L321.6,303.7 Z" fill="none" stroke="#000" stroke-width="1.0"/>
<path d="M333.7,300.2 L337.1,303.7 L333.7,307.1 L330.3,303.7 Z" fill="none" stroke="#000" stroke-width="1.0"/>
<path d="M312.3,304.9 L315.7,308.3 L312.3,311.8 L308.9,308.3 Z" fill="none" stroke="#000" stroke-width="1.0"/>
<path d="M320.9,304.9 L324.3,308.3 L320.9,311.8 L317.5,308.3 Z" fill="none" stroke="#000" stroke-width="1.0"/>
<path d="M329.6,304.9 L333.0,308.3 L329.6,311.8 L326.2,308.3 Z" fill="none" stroke="#000" stroke-width="1.0"/>
<path d="M307.7,307.9 L311.1,311.3 L307.7,314.8 L304.3,311.3 Z" fill="none" stroke="#000" stroke-width="1.0"/>
<path d="M316.3,307.9 L319.7,311.3 L316.3,314.8 L312.9,311.3 Z" fill="none" stroke="#000" stroke-width="1.0"/>
<path d="M325.0,307.9 L328.4,311.3 L325.0,314.8 L321.6,311.3 Z" fill="none" stroke="#000" stroke-width="1.0"/>
<path d="M333.7,307.9 L337.1,311.3 L333.7,314.8 L330.3,311.3 Z" fill="none" stroke="#000" stroke-width="1.0"/>
<path d="M312.3,312.9 L315.7,316.4 L312.3,319.8 L308.9,316.4 Z" fill="none" stroke="#000" stroke-width="1.0"/>
<path d="M320.9,312.9 L324.3,316.4 L320.9,319.8 L317.5,316.4 Z" fill="none" stroke="#000" stroke-width="1.0"/>
<path d="M325.0,312.9 L328.4,316.4 L325.0,319.8 L321.6,316.4 Z" fill="none" stroke="#000" stroke-width="1.0"/>
<path d="M329.6,312.9 L333.0,316.4 L329.6,319.8 L326.2,316.4 Z" fill="none" stroke="#000" stroke-width="1.0"/>
<path d="M316.6,316.1 L320.0,319.5 L316.6,322.9 L313.2,319.5 Z" fill="none" stroke="#000" stroke-width="1.0"/>
<path d="M325.2,316.1 L328.6,319.5 L325.2,322.9 L321.8,319.5 Z" fill="none" stroke="#000" stroke-width="1.0"/>
<path d="M320.9,317.6 L324.3,321.0 L320.9,324.4 L317.5,321.0 Z" fill="none" stroke="#000" stroke-width="1.0"/>
<path d="M311.3,320.6 L314.7,324.0 L311.3,327.4 L307.9,324.0 Z" fill="none" stroke="#000" stroke-width="1.0"/>
<path d="M320.9,320.6 L324.3,324.0 L320.9,327.4 L317.5,324.0 Z" fill="none" stroke="#000" stroke-width="1.0"/>
<path d="M329.8,320.6 L333.2,324.0 L329.8,327.4 L326.4,324.0 Z" fill="none" stroke="#000" stroke-width="1.0"/>
<path d="M318.5,322.1 L321.9,325.5 L318.5,328.9 L315.1,325.5 Z" fill="none" stroke="#000" stroke-width="1.0"/>
<path d="M323.3,322.1 L326.7,325.5 L323.3,328.9 L319.9,325.5 Z" fill="none" stroke="#000" stroke-width="1.0"/>
<path d="M307.6,324.1 L311.0,327.5 L307.6,330.9 L304.2,327.5 Z" fill="none" stroke="#000" stroke-width="1.0"/>
<path d="M314.5,324.1 L317.9,327.5 L314.5,330.9 L311.1,327.5 Z" fill="none" stroke="#000" stroke-width="1.0"/>
<path d="M320.9,324.1 L324.3,327.5 L320.9,330.9 L317.5,327.5 Z" fill="none" stroke="#000" stroke-width="1.0"/>
<path d="M327.0,324.1 L330.4,327.5 L327.0,330.9 L323.6,327.5 Z" fill="none" stroke="#000" stroke-width="1.0"/>
<path d="M333.5,324.1 L336.9,327.5 L333.5,330.9 L330.1,327.5 Z" fill="none" stroke="#000" stroke-width="1.0"/>
<path d="M318.0,326.1 L321.4,329.5 L318.0,332.9 L314.6,329.5 Z" fill="none" stroke="#000" stroke-width="1.0"/>
<path d="M323.8,326.1 L327.2,329.5 L323.8,332.9 L320.4,329.5 Z" fill="none" stroke="#000" stroke-width="1.0"/>
<path d="M311.3,327.1 L314.7,330.5 L311.3,333.9 L307.9,330.5 Z" fill="none" stroke="#000" stroke-width="1.0"/>
<path d="M320.9,327.1 L324.3,330.5 L320.9,333.9 L317.5,330.5 Z" fill="none" stroke="#000" stroke-width="1.0"/>
<path d="M329.8,327.1 L333.2,330.5 L329.8,333.9 L326.4,330.5 Z" fill="none" stroke="#000" stroke-width="1.0"/>
<path d="M318.5,328.6 L321.9,332.0 L318.5,335.4 L315.1,332.0 Z" fill="none" stroke="#000" stroke-width="1.0"/>
<path d="M323.3,328.6 L326.7,332.0 L323.3,335.4 L319.9,332.0 Z" fill="none" stroke="#000" stroke-width="1.0"/>
<path d="M307.6,330.4 L311.0,333.8 L307.6,337.2 L304.2,333.8 Z" fill="none" stroke="#000" stroke-width="1.0"/>
<path d="M315.0,330.4 L318.4,333.8 L315.0,337.2 L311.6,333.8 Z" fill="none" stroke="#000" stroke-width="1.0"/>
<path d="M320.9,330.4 L324.3,333.8 L320.9,337.2 L317.5,333.8 Z" fill="none" stroke="#000" stroke-width="1.0"/>
<path d="M326.0,330.4 L329.4,333.8 L326.0,337.2 L322.6,333.8 Z" fill="none" stroke="#000" stroke-width="1.0"/>
<path d="M333.5,330.4 L336.9,333.8 L333.5,337.2 L330.1,333.8 Z" fill="none" stroke="#000" stroke-width="1.0"/>
<path d="M320.9,332.1 L324.3,335.5 L320.9,338.9 L317.5,335.5 Z" fill="none" stroke="#000" stroke-width="1.0"/>
<path d="M312.2,333.6 L315.6,337.0 L312.2,340.4 L308.8,337.0 Z" fill="none" stroke="#000" stroke-width="1.0"/>
<path d="M328.9,333.6 L332.3,337.0 L328.9,340.4 L325.5,337.0 Z" fill="none" stroke="#000" stroke-width="1.0"/>
<path d="M320.5,334.9 L323.9,338.4 L320.5,341.8 L317.1,338.4 Z" fill="none" stroke="#000" stroke-width="1.0"/>
<path d="M320.4,319.4 L323.8,322.8 L320.4,326.2 L317.0,322.8 Z" fill="none" stroke="#000" stroke-width="1.0"/>
<path d="M321.4,319.4 L324.8,322.8 L321.4,326.2 L318.0,322.8 Z" fill="none" stroke="#000" stroke-width="1.0"/>
<path d="M319.6,322.8 L323.0,326.2 L319.6,329.6 L316.2,326.2 Z" fill="none" stroke="#000" stroke-width="1.0"/>
<path d="M322.2,322.8 L325.6,326.2 L322.2,329.6 L318.8,326.2 Z" fill="none" stroke="#000" stroke-width="1.0"/>
<path d="M320.9,325.4 L324.3,328.8 L320.9,332.2 L317.5,328.8 Z" fill="none" stroke="#000" stroke-width="1.0"/>
<path d="M319.5,328.1 L322.9,331.5 L319.5,334.9 L316.1,331.5 Z" fill="none" stroke="#000" stroke-width="1.0"/>
<path d="M322.3,328.1 L325.7,331.5 L322.3,334.9 L318.9,331.5 Z" fill="none" stroke="#000" stroke-width="1.0"/>
<path d="M320.3,331.2 L323.7,334.6 L320.3,338.1 L316.9,334.6 Z" fill="none" stroke="#000" stroke-width="1.0"/>
<path d="M321.5,331.2 L324.9,334.6 L321.5,338.1 L318.1,334.6 Z" fill="none" stroke="#000" stroke-width="1.0"/>
<path d="M317.3,288.9 L320.7,292.3 L317.3,295.8 L313.9,292.3 Z" fill="none" stroke="#000" stroke-width="1.0"/>
<path d="M318.3,288.9 L321.7,292.3 L318.3,295.8 L314.9,292.3 Z" fill="none" stroke="#000" stroke-width="1.0"/>
<rect x="376.9" y="70.1" width="5.2" height="5.2" fill="none" stroke="#000" stroke-width="1.1"/>
<rect x="376.9" y="115.6" width="5.2" height="5.2" fill="none" stroke="#000" stroke-width="1.1"/>
<rect x="376.9" y="160.5" width="5.2" height="5.2" fill="none" stroke="#000" stroke-width="1.1"/>
<rect x="376.9" y="169.8" width="5.2" height="5.2" fill="none" stroke="#000" stroke-width="1.1"/>
<rect x="376.9" y="212.5" width="5.2" height="5.2" fill="none" stroke="#000" stroke-width="1.1"/>
<rect x="376.9" y="255.9" width="5.2" height="5.2" fill="none" stroke="#000" stroke-width="1.1"/>
<rect x="385.0" y="260.7" width="5.2" height="5.2" fill="none" stroke="#000" stroke-width="1.1"/>
<rect x="376.9" y="265.6" width="5.2" height="5.2" fill="none" stroke="#000" stroke-width="1.1"/>
<rect x="368.3" y="277.0" width="5.2" height="5.2" fill="none" stroke="#000" stroke-width="1.1"/>
<rect x="376.9" y="285.0" width="5.2" height="5.2" fill="none" stroke="#000" stroke-width="1.1"/>
<rect x="376.9" y="295.2" width="5.2" height="5.2" fill="none" stroke="#000" stroke-width="1.1"/>
<rect x="376.9" y="305.2" width="5.2" height="5.2" fill="none" stroke="#000" stroke-width="1.1"/>
<rect x="367.8" y="308.8" width="5.2" height="5.2" fill="none" stroke="#000" stroke-width="1.1"/>
<rect x="385.1" y="311.7" width="5.2" height="5.2" fill="none" stroke="#000" stroke-width="1.1"/>
<rect x="376.9" y="315.5" width="5.2" height="5.2" fill="none" stroke="#000" stroke-width="1.1"/>
<rect x="367.8" y="321.9" width="5.2" height="5.2" fill="none" stroke="#000" stroke-width="1.1"/>
<rect x="385.1" y="321.6" width="5.2" height="5.2" fill="none" stroke="#000" stroke-width="1.1"/>
<rect x="376.9" y="327.4" width="5.2" height="5.2" fill="none" stroke="#000" stroke-width="1.1"/>
<rect x="372.5" y="332.5" width="5.2" height="5.2" fill="none" stroke="#000" stroke-width="1.1"/>
<rect x="381.0" y="334.7" width="5.2" height="5.2" fill="none" stroke="#000" stroke-width="1.1"/>
<rect x="367.8" y="339.4" width="5.2" height="5.2" fill="none" stroke="#000" stroke-width="1.1"/>
<rect x="376.9" y="341.7" width="5.2" height="5.2" fill="none" stroke="#000" stroke-width="1.1"/>
<rect x="385.1" y="341.7" width="5.2" height="5.2" fill="none" stroke="#000" stroke-width="1.1"/>
<rect x="190.4" y="326.8" width="28.80" height="17.20" fill="#000"/>
<rect x="250.4" y="327.5" width="25.60" height="16.50" fill="#000"/>
<rect x="199.0" y="329.0" width="1.70" height="2.60" fill="#fff"/>
<rect x="199.0" y="335.0" width="1.70" height="2.20" fill="#fff"/>
<rect x="199.2" y="338.6" width="1.30" height="1.60" fill="#fff"/>
<rect x="208.4" y="329.0" width="1.70" height="2.60" fill="#fff"/>
<rect x="208.4" y="335.0" width="1.70" height="2.20" fill="#fff"/>
<rect x="208.6" y="338.6" width="1.30" height="1.60" fill="#fff"/>
<rect x="257.6" y="330.5" width="1.60" height="3.30" fill="#fff"/>
<rect x="257.6" y="338" width="1.60" height="3.00" fill="#fff"/>
<rect x="266.9" y="330.5" width="1.80" height="3.30" fill="#fff"/>
<rect x="266.9" y="338" width="1.80" height="3.00" fill="#fff"/>
<rect x="190.4" y="328.6" width="1.40" height="2.60" fill="#fff"/>
<rect x="190.4" y="335.6" width="1.20" height="2.00" fill="#fff"/>
<rect x="217.8" y="328.6" width="1.40" height="2.60" fill="#fff"/>
<rect x="218.0" y="335.6" width="1.20" height="2.00" fill="#fff"/>
<line x1="68" y1="330.7" x2="108.5" y2="330.7" stroke="#000" stroke-width="2.2"/>
<line x1="126" y1="328.4" x2="166.5" y2="328.4" stroke="#000" stroke-width="2.2"/>
<line x1="184.3" y1="334.3" x2="225" y2="334.3" stroke="#000" stroke-width="2.2"/>
<line x1="242.7" y1="336.1" x2="283.5" y2="336.1" stroke="#000" stroke-width="2.2"/>
<line x1="300.5" y1="307.2" x2="341.4" y2="307.2" stroke="#000" stroke-width="2.2"/>
<line x1="358.8" y1="307.9" x2="399.3" y2="307.9" stroke="#000" stroke-width="2.2"/>
</svg>
</body></html>
